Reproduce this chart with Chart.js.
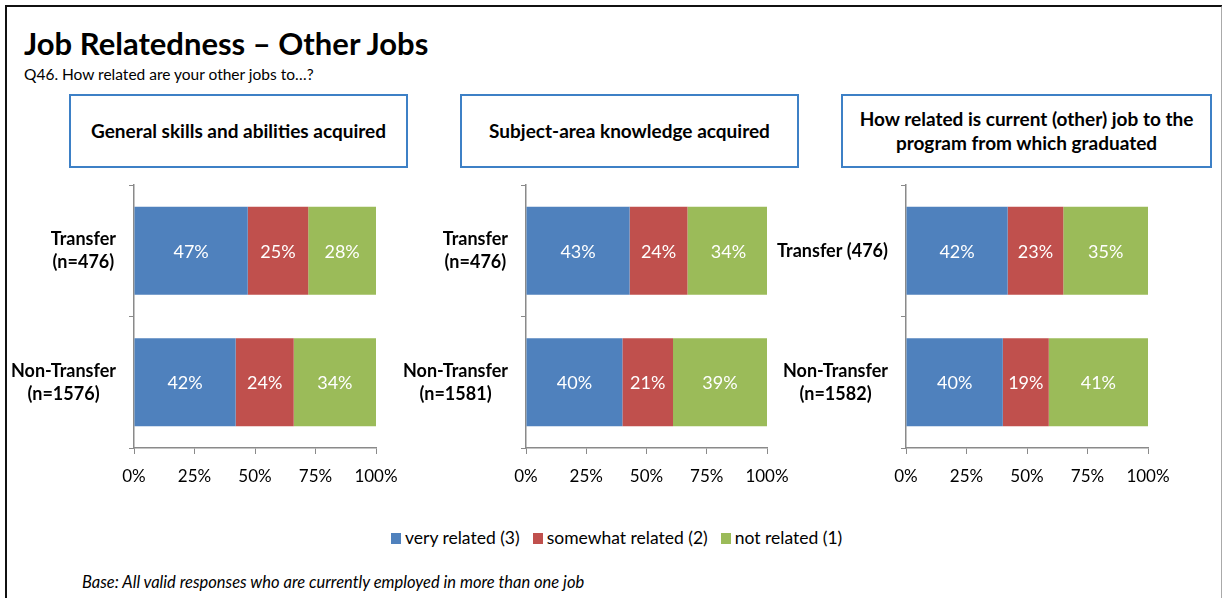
<!DOCTYPE html>
<html>
<head>
<meta charset="utf-8">
<script src="https://cdn.jsdelivr.net/npm/chart.js@4/dist/chart.umd.min.js"></script>
<style>
  html, body { margin: 0; padding: 0; background: #fff; }
  body { width: 1222px; height: 598px; position: relative; overflow: hidden; font-family: Lato, "Open Sans", sans-serif; color: #000; }
  .frame { position: absolute; left: 5px; top: 5px; width: 1214px; height: 600px; border-left: 2px solid #111; border-top: 2px solid #111; border-right: 2px solid #aaa; }
  .title { position: absolute; left: 24px; top: 28px; font-size: 31px; font-weight: 700; line-height: 31px; white-space: nowrap; }
  .subtitle { position: absolute; left: 24px; top: 66px; font-size: 15.5px; line-height: 16px; white-space: nowrap; }
  .box { position: absolute; top: 94px; height: 70px; border: 2px solid #3d80c6; display: flex; align-items: center; justify-content: center; text-align: center; font-size: 19px; font-weight: 700; line-height: 24px; }
  canvas { position: absolute; top: 180px; }
  .legend { position: absolute; top: 528px; left: 391px; display: flex; font-size: 17.5px; line-height: 20px; white-space: nowrap; }
  .legend span.item { display: flex; align-items: center; margin-right: 13px; }
  .legend i { display: inline-block; width: 10px; height: 11px; margin-right: 4px; }
  .note { position: absolute; left: 82px; top: 573px; font-size: 16.5px; font-style: italic; line-height: 18px; white-space: nowrap; }
</style>
</head>
<body>
<div class="frame"></div>
<div class="title">Job Relatedness – Other Jobs</div>
<div class="subtitle">Q46. How related are your other jobs to…?</div>

<div class="box" style="left:69px; width:335px;">General skills and abilities acquired</div>
<div class="box" style="left:460px; width:335px;">Subject-area knowledge acquired</div>
<div class="box" style="left:841px; width:367px;">How related is current (other) job to the<br>program from which graduated</div>

<canvas id="chart1" width="400" height="315" style="left:0px;"></canvas>
<canvas id="chart2" width="401" height="315" style="left:390px;"></canvas>
<canvas id="chart3" width="402" height="315" style="left:770px;"></canvas>

<div class="legend" id="legend"></div>
<div class="note">Base: All valid responses who are currently employed in more than one job</div>

<script>
// answer categories, shared by all three panels
const seriesNames = ['very related (3)', 'somewhat related (2)', 'not related (1)'];
const xTicks = [0, 25, 50, 75, 100];

// General skills and abilities acquired
const generalLabels = [['Transfer', '(n=476)'], ['Non-Transfer', '(n=1576)']];
const generalVery = [47, 42];
const generalSomewhat = [25, 24];
const generalNot = [28, 34];

// Subject-area knowledge acquired
const subjectLabels = [['Transfer', '(n=476)'], ['Non-Transfer', '(n=1581)']];
const subjectVery = [43, 40];
const subjectSomewhat = [24, 21];
const subjectNot = [34, 39];

// Current (other) job vs. program graduated from
const programLabels = [['Transfer (476)'], ['Non-Transfer', '(n=1582)']];
const programVery = [42, 40];
const programSomewhat = [23, 19];
const programNot = [35, 41];

const COLORS = ['#4f81bd', '#c0504d', '#9bbb59'];
const AXIS = '#8a8a8a';
const FONT = 'Lato';

// white value text in the middle of each segment
const valueLabels = {
  id: 'valueLabels',
  afterDatasetsDraw(chart) {
    const ctx = chart.ctx;
    ctx.save();
    ctx.font = '18px ' + FONT;
    ctx.fillStyle = '#fff';
    ctx.textAlign = 'center';
    ctx.textBaseline = 'middle';
    chart.data.datasets.forEach((ds, i) => {
      chart.getDatasetMeta(i).data.forEach((bar, j) => {
        const p = bar.getCenterPoint();
        ctx.fillText(ds.data[j] + '%', p.x, p.y + 1);
      });
    });
    ctx.restore();
  }
};

// category names: lines centred on each other, block right-aligned to the axis
const categoryLabels = {
  id: 'categoryLabels',
  afterDraw(chart) {
    const ctx = chart.ctx;
    const scale = chart.scales.y;
    ctx.save();
    ctx.font = 'bold 18px ' + FONT;
    ctx.fillStyle = '#000';
    ctx.textAlign = 'center';
    ctx.textBaseline = 'middle';
    chart.data.labels.forEach((lines, i) => {
      const w = Math.max(...lines.map(l => ctx.measureText(l).width));
      const cx = scale.right - 18 - w / 2;
      const y0 = scale.getPixelForTick(i) - (lines.length - 1) * 23 / 2;
      lines.forEach((l, k) => ctx.fillText(l, cx, y0 + k * 23));
    });
    ctx.restore();
  }
};

function makeChart(id, labels, very, somewhat, notRel, axisWidth) {
  const values = [very, somewhat, notRel];
  return new Chart(document.getElementById(id), {
    type: 'bar',
    data: {
      labels: labels,
      datasets: seriesNames.map((name, i) => ({
        label: name,
        data: values[i],
        backgroundColor: COLORS[i],
        borderWidth: 0,
        categoryPercentage: 1,
        barPercentage: 0.67
      }))
    },
    options: {
      indexAxis: 'y',
      responsive: false,
      animation: false,
      layout: { padding: { top: 5, right: 24, left: 0, bottom: 0 } },
      plugins: {
        legend: { display: false },
        tooltip: { enabled: false }
      },
      scales: {
        x: {
          stacked: true,
          min: 0,
          max: 100,
          afterBuildTicks: s => { s.ticks = xTicks.map(v => ({ value: v })); },
          afterFit: s => {
            s.height = 47;
            // the outer layout padding already leaves room for "100%"
            s.paddingLeft = 0;
            s.paddingRight = 0;
          },
          grid: { drawOnChartArea: false, color: AXIS, tickLength: 6 },
          border: { color: AXIS, width: 1.5 },
          ticks: {
            color: '#000',
            font: { family: FONT, size: 17 },
            padding: 12,
            maxRotation: 0,
            callback: v => v + '%'
          }
        },
        y: {
          stacked: true,
          afterFit: s => { s.width = axisWidth; },
          grid: { drawOnChartArea: false, color: AXIS, tickLength: 5, offset: true },
          border: { color: AXIS, width: 1.5 },
          ticks: { display: false }
        }
      }
    },
    plugins: [valueLabels, categoryLabels]
  });
}

makeChart('chart1', generalLabels, generalVery, generalSomewhat, generalNot, 134);
makeChart('chart2', subjectLabels, subjectVery, subjectSomewhat, subjectNot, 136);
makeChart('chart3', programLabels, programVery, programSomewhat, programNot, 136);

// shared legend under the three panels
const legend = document.getElementById('legend');
seriesNames.forEach((name, i) => {
  const item = document.createElement('span');
  item.className = 'item';
  const sw = document.createElement('i');
  sw.style.background = COLORS[i];
  item.appendChild(sw);
  item.appendChild(document.createTextNode(name));
  legend.appendChild(item);
});
</script>
</body>
</html>
